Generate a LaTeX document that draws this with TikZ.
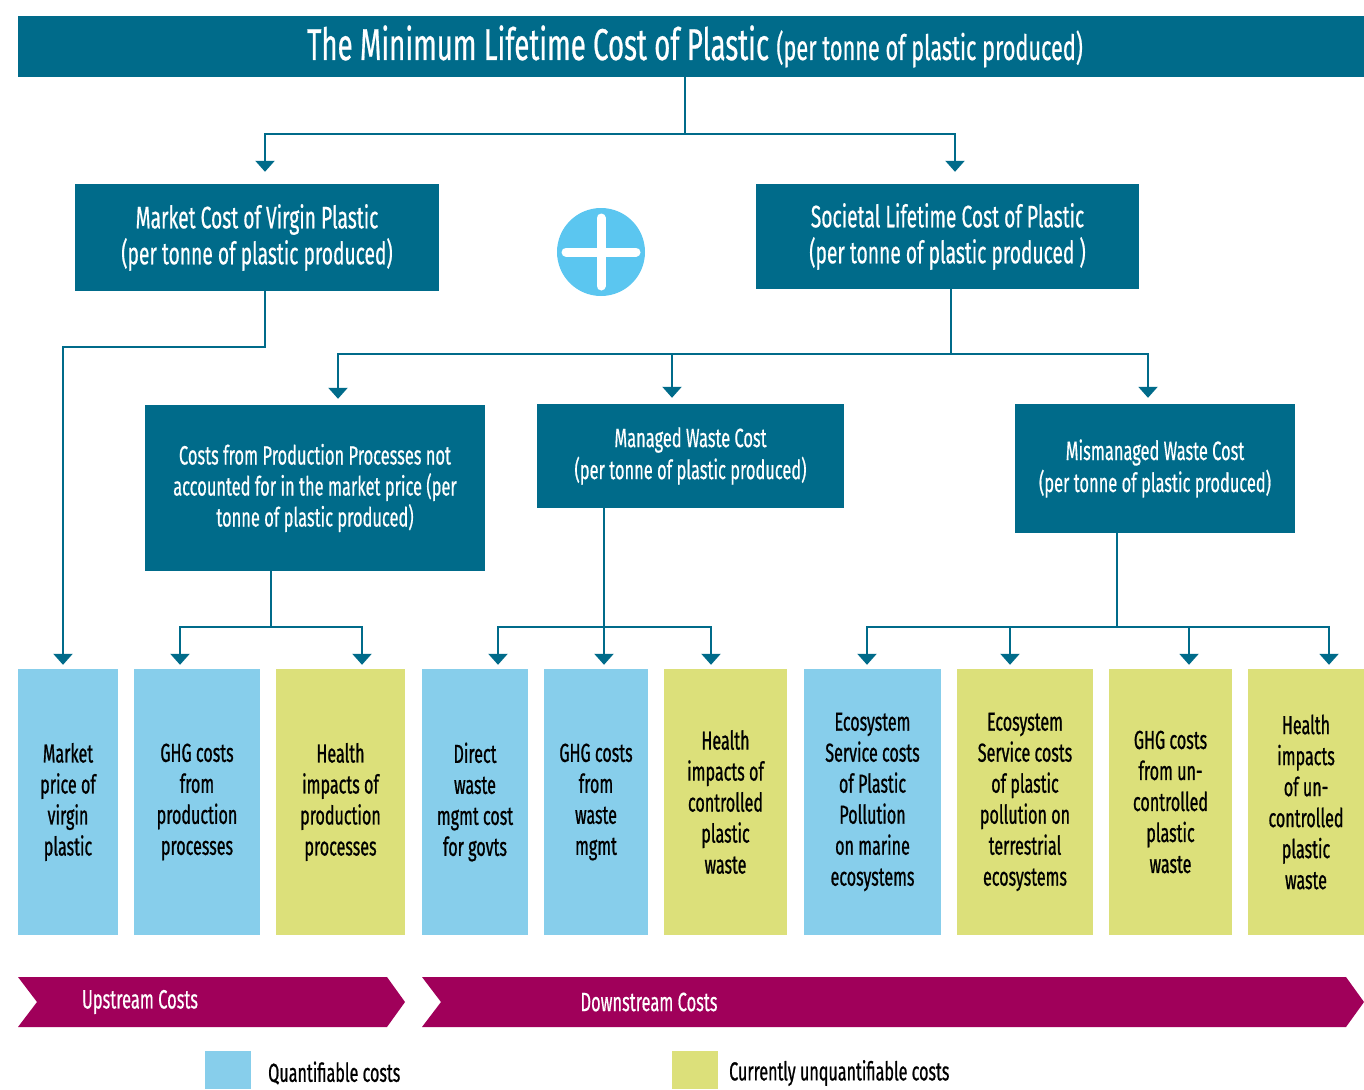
\documentclass[tikz,border=0pt]{standalone}
\usepackage{fontspec}
\setmainfont{Fira Sans}[FakeStretch=0.62,FakeBold=0.5]
\newfontfamily\darkfont{Fira Sans}[FakeStretch=0.62,FakeBold=0.8]
\usetikzlibrary{arrows.meta}
\definecolor{teal}{RGB}{0,107,138}
\definecolor{plusblue}{RGB}{91,198,240}
\definecolor{qblue}{RGB}{135,206,235}
\definecolor{uyellow}{RGB}{220,224,122}
\definecolor{magenta}{RGB}{160,0,90}
\tikzset{
  hdr/.style={fill=teal, text=white, inner sep=0pt, align=center},
  leaf/.style={inner sep=0pt, align=center, minimum height=266pt, font=\darkfont\fontsize{26}{31}\selectfont},
  qleaf/.style={leaf, fill=qblue},
  uleaf/.style={leaf, fill=uyellow},
  link/.style={draw=teal, line width=2.2pt, -{Triangle[width=19pt,length=11pt]}},
  chev/.style={fill=magenta},
}
\begin{document}
\begin{tikzpicture}[x=1pt,y=-1pt]
\useasboundingbox (0,0) rectangle (1364,1089);
% title
\node[hdr, minimum width=1346pt, minimum height=61pt] (title) at (691,46.5) {};
\node[text=white, inner sep=0pt, anchor=base] (titletext) at (695,60)
  {\fontsize{44.5}{50}\selectfont The Minimum Lifetime Cost of Plastic \fontsize{35}{38}\selectfont(per tonne of plastic produced)};
% level 1
\node[hdr, minimum width=364pt, minimum height=107pt, font=\fontsize{31}{36}\selectfont] (mc) at (257,237.5)
  {Market Cost of Virgin Plastic\\(per tonne of plastic produced)};
\node[hdr, minimum width=383pt, minimum height=105pt, font=\fontsize{31}{36}\selectfont] (sc) at (947.5,236.5)
  {Societal Lifetime Cost of Plastic\\(per tonne of plastic produced )};
\node[circle, fill=plusblue, minimum size=88pt, inner sep=0pt] (plus) at (601,252) {};
\draw[white, line width=9pt, line cap=round] ([yshift=-34pt]plus.center) -- ([yshift=34pt]plus.center);
\draw[white, line width=9pt, line cap=round] ([xshift=-35pt]plus.center) -- ([xshift=35pt]plus.center);
% level 2
\node[hdr, minimum width=340pt, minimum height=166pt, font=\fontsize{26.5}{31}\selectfont] (pp) at (315,488)
  {Costs from Production Processes not\\accounted for in the market price (per\\tonne of plastic produced)};
\node[hdr, minimum width=307pt, minimum height=104pt, font=\fontsize{26.5}{32}\selectfont] (mw) at (690.5,456)
  {Managed Waste Cost\\(per tonne of plastic produced)};
\node[hdr, minimum width=280pt, minimum height=129pt, font=\fontsize{26.5}{32}\selectfont] (mm) at (1155,468.5)
  {Mismanaged Waste Cost\\(per tonne of plastic produced)};
% leaves
\node[qleaf, minimum width=100pt] (b1) at (68,802) {Market\\price of\\virgin\\plastic};
\node[qleaf, minimum width=126pt] (b2) at (197,802) {GHG costs\\from\\production\\processes};
\node[uleaf, minimum width=129pt] (b3) at (340.5,802) {Health\\impacts of\\production\\processes};
\node[qleaf, minimum width=106pt] (b4) at (475,802) {Direct\\waste\\mgmt cost\\for govts};
\node[qleaf, minimum width=104pt] (b5) at (596,802) {GHG costs\\from\\waste\\mgmt};
\node[uleaf, minimum width=123pt] (b6) at (725.5,802) {Health\\impacts of\\controlled\\plastic\\waste};
\node[qleaf, minimum width=137pt] (b7) at (872.5,802) {Ecosystem\\Service costs\\of Plastic\\Pollution\\on marine\\ecosystems};
\node[uleaf, minimum width=136pt] (b8) at (1025,802) {Ecosystem\\Service costs\\of plastic\\pollution on\\terrestrial\\ecosystems};
\node[uleaf, minimum width=123pt] (b9) at (1170.5,802) {GHG costs\\from un-\\controlled\\plastic\\waste};
\node[uleaf, minimum width=116pt] (b10) at (1306,802) {Health\\impacts\\of un-\\controlled\\plastic\\waste};
% connectors
\draw[link, shorten >=12pt] ([xshift=-6pt]title.south) -- ++(0,57) -| ([xshift=8pt]mc.north);
\draw[link, shorten >=12pt] ([xshift=-6pt]title.south) -- ++(0,57) -| ([xshift=7.5pt]sc.north);
\draw[link, shorten >=4pt] ([xshift=8pt]mc.south) -- ++(0,56) -| ([xshift=-5pt]b1.north);
\draw[link, shorten >=6pt] ([xshift=3.5pt]sc.south) -- ++(0,65) -| ([xshift=23pt]pp.north);
\draw[link, shorten >=6pt] ([xshift=3.5pt]sc.south) -- ++(0,65) -| ([xshift=-18.5pt]mw.north);
\draw[link, shorten >=6pt] ([xshift=3.5pt]sc.south) -- ++(0,65) -| ([xshift=-7pt]mm.north);
\draw[link, shorten >=4pt] ([xshift=-44pt]pp.south) -- ++(0,56) -| ([xshift=-17pt]b2.north);
\draw[link, shorten >=4pt] ([xshift=-44pt]pp.south) -- ++(0,56) -| ([xshift=21.5pt]b3.north);
\draw[link, shorten >=4pt] ([xshift=-86.5pt]mw.south) -- ++(0,119) -| ([xshift=23pt]b4.north);
\draw[link, shorten >=4pt] ([xshift=-86.5pt]mw.south) -- ([xshift=8pt]b5.north);
\draw[link, shorten >=4pt] ([xshift=-86.5pt]mw.south) -- ++(0,119) -| ([xshift=-14.5pt]b6.north);
\draw[link, shorten >=4pt] ([xshift=-38pt]mm.south) -- ++(0,94) -| ([xshift=-5.5pt]b7.north);
\draw[link, shorten >=4pt] ([xshift=-38pt]mm.south) -- ++(0,94) -| ([xshift=-15pt]b8.north);
\draw[link, shorten >=4pt] ([xshift=-38pt]mm.south) -- ++(0,94) -| ([xshift=18.5pt]b9.north);
\draw[link, shorten >=4pt] ([xshift=-38pt]mm.south) -- ++(0,94) -| ([xshift=23pt]b10.north);
% chevrons
\fill[chev] (18,977) -- (387,977) -- (405,1002) -- (387,1027) -- (18,1027) -- (37,1002) -- cycle;
\fill[chev] (422,977) -- (1346,977) -- (1364,1002) -- (1346,1027) -- (422,1027) -- (441,1002) -- cycle;
\node[text=white, font=\fontsize{26.5}{28}\selectfont] (up) at (140,1002) {Upstream Costs};
\node[text=white, font=\fontsize{26.5}{28}\selectfont] (down) at (649,1002) {Downstream Costs};
% legend
\fill[qblue] (205,1051) rectangle (251,1089);
\fill[uyellow] (672,1051) rectangle (718,1089);
\node[anchor=west, inner sep=0pt, font=\darkfont\fontsize{26}{28}\selectfont] (lq) at (268,1073) {Quantifiable costs};
\node[anchor=west, inner sep=0pt, font=\darkfont\fontsize{26}{28}\selectfont] (lu) at (729,1073) {Currently unquantifiable costs};
\end{tikzpicture}
\end{document}
